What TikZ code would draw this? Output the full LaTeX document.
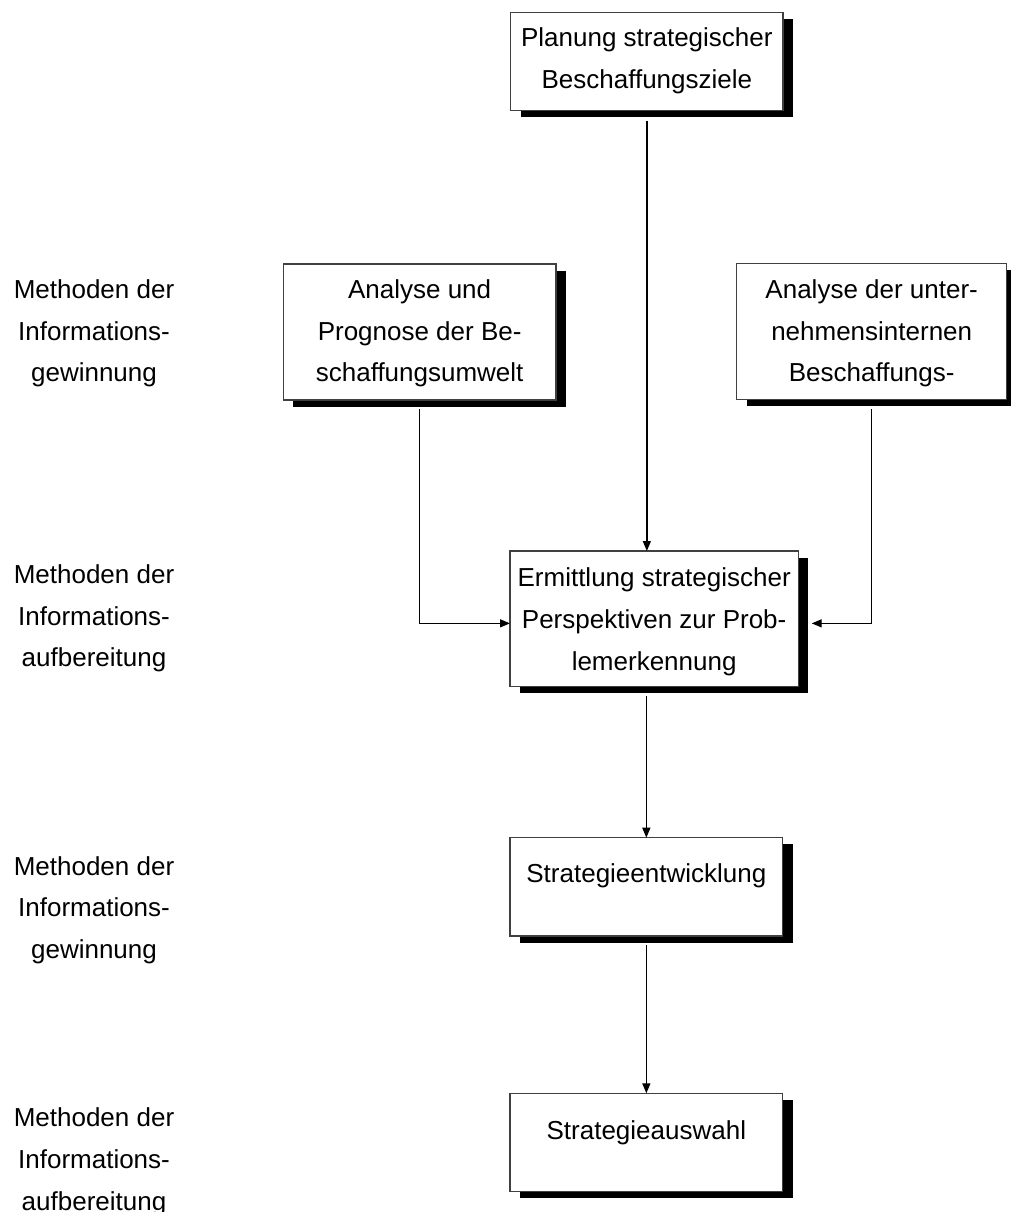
\documentclass[tikz,border=0pt]{standalone}
\usepackage{fontspec}
\setmainfont{Liberation Sans}
\usetikzlibrary{shadows,arrows.meta}
\begin{document}
\begin{tikzpicture}[x=1pt,y=-1pt]
\tikzset{
 box/.style={draw=black!75, line width=1.1pt, fill=white, rectangle, inner sep=0pt, outer sep=0pt,
   drop shadow={shadow xshift=10pt, shadow yshift=-6.7pt, fill=black, opacity=1}},
 txt/.style={font=\fontsize{26}{41.7}\selectfont, align=center, inner sep=0pt, anchor=north},
 conn/.style={line width=1.4pt, -{Triangle[length=10pt,width=8pt]}},
}
\useasboundingbox (0,0) rectangle (1010,1212);
% boxes
\node[box, minimum width=272.3pt, minimum height=98pt] (b1) at (646.85,61.7) {};
\node[box, minimum width=272.7pt, minimum height=136pt] (b2) at (419.65,332) {};
\node[box, minimum width=270pt, minimum height=136pt] (b3) at (871.7,331.3) {};
\node[box, minimum width=288.3pt, minimum height=135.7pt] (b4) at (654.15,618.85) {};
\node[box, minimum width=272.7pt, minimum height=98.3pt] (b5) at (646.35,886.85) {};
\node[box, minimum width=272.7pt, minimum height=98.4pt] (b6) at (646.35,1142.5) {};
% box texts
\node[txt] (t1) at ([yshift=-4.8pt]b1.north) {\strut Planung strategischer\\\strut Beschaffungsziele};
\node[txt] (t2) at ([yshift=-5.1pt]b2.north) {\strut Analyse und\\\strut Prognose der Be-\\\strut schaffungsumwelt};
\node[txt] (t3) at ([yshift=-5.8pt]b3.north) {\strut Analyse der unter-\\\strut nehmensinternen\\\strut Beschaffungs-};
\node[txt] (t4) at ([yshift=-6.5pt]b4.north) {\strut Ermittlung strategischer\\\strut Perspektiven zur Prob-\\\strut lemerkennung};
\node[txt] (t5) at ([yshift=-15.8pt]b5.north) {\strut Strategieentwicklung};
\node[txt] (t6) at ([yshift=-16.8pt]b6.north) {\strut Strategieauswahl};
% left labels
\node[txt] (l1) at (94,269.1) {\strut Methoden der\\\strut Informations-\\\strut gewinnung};
\node[txt] (l2) at (94,554.1) {\strut Methoden der\\\strut Informations-\\\strut aufbereitung};
\node[txt] (l3) at (94,845.8) {\strut Methoden der\\\strut Informations-\\\strut gewinnung};
\node[txt] (l4) at (94,1097.5) {\strut Methoden der\\\strut Informations-\\\strut aufbereitung};
% connectors
\draw[conn] ([yshift=-10pt]b1.south) -- (b1.south |- b4.north);
\draw[conn] ([yshift=-9pt]b2.south) |- ([yshift=-4.5pt]b4.west);
\draw[conn] ([yshift=-9.7pt]b3.south) |- ([xshift=13.4pt,yshift=-4.5pt]b4.east);
\draw[conn] ([yshift=-9.3pt]b4.south -| b5.north) -- (b5.north);
\draw[conn] ([yshift=-9pt]b5.south) -- (b6.north);
\end{tikzpicture}
\end{document}
